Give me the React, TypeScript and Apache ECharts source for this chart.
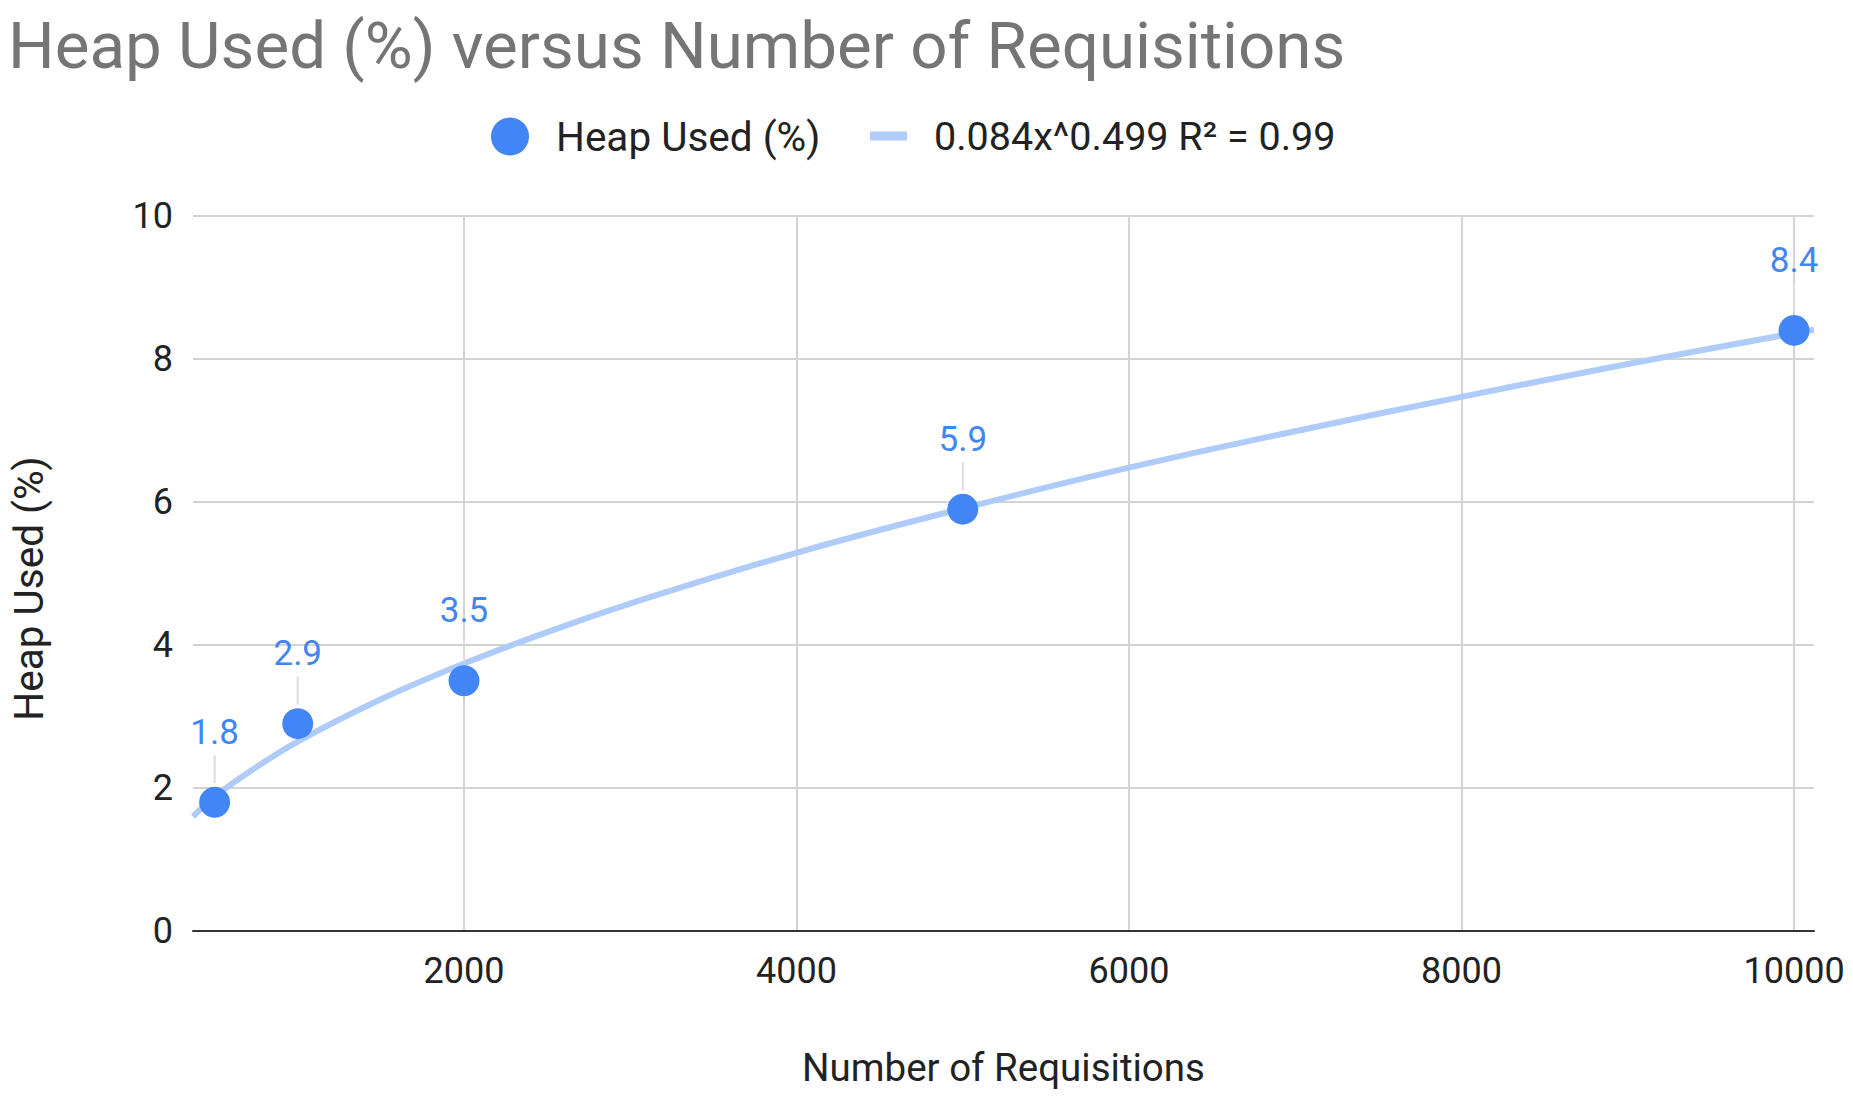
import React, { useEffect, useRef } from "react";
import * as echarts from "echarts";

const titleText = "Heap Used (%) versus Number of Requisitions";
const seriesName = "Heap Used (%)";
const trendName = "0.084x^0.499 R² = 0.99";
const xAxisName = "Number of Requisitions";
const yAxisName = "Heap Used (%)";

const requisitions = [500, 1000, 2000, 5000, 10000];
const heapUsed = [1.8, 2.9, 3.5, 5.9, 8.4];

// trendline
const trendX = [370, 500, 750, 1000, 1500, 2000, 2500, 3000, 4000, 5000, 6000, 7000, 8000, 9000, 10000, 10120];
const trendY = [1.6, 1.88, 2.29, 2.65, 3.24, 3.74, 4.18, 4.58, 5.29, 5.91, 6.48, 6.99, 7.47, 7.93, 8.36, 8.41];

const xTicks = [2000, 4000, 6000, 8000, 10000];

const FONT = "Roboto";

export default function App() {
  const ref = useRef<HTMLDivElement>(null);
  useEffect(() => {
    document.body.style.margin = "0";
    const chart = echarts.init(ref.current!, null, { renderer: "svg" });
    const points = requisitions.map((x, i) => [x, heapUsed[i]]);
    chart.setOption({
      animation: false,
      backgroundColor: "#ffffff",
      title: {
        text: titleText,
        left: 8,
        top: 12,
        padding: 0,
        textStyle: { fontFamily: FONT, fontSize: 65.5, fontWeight: "normal", color: "#757575" },
      },
      legend: [
        {
          data: [{ name: seriesName, icon: "circle" }],
          left: 486,
          top: 111,
          itemWidth: 82,
          itemHeight: 38,
          selectedMode: false,
          textStyle: { fontFamily: FONT, fontSize: 40.5, color: "#222222" },
        },
        {
          data: [{ name: trendName, icon: "rect" }],
          left: 865,
          top: 111,
          itemWidth: 37,
          itemHeight: 9,
          selectedMode: false,
          textStyle: { fontFamily: FONT, fontSize: 39.5, color: "#222222", padding: [0, 0, 0, 22] },
        },
      ],
      grid: { left: 189, right: 39, top: 216, bottom: 166 },
      xAxis: {
        type: "value",
        min: 370,
        max: 10120,
        name: xAxisName,
        nameLocation: "middle",
        nameGap: 117,
        nameTextStyle: { fontFamily: FONT, fontSize: 38.5, color: "#222222" },
        axisLine: { show: true, lineStyle: { color: "#333333", width: 2 } },
        axisTick: { show: false, customValues: xTicks },
        axisLabel: {
          customValues: xTicks,
          fontFamily: FONT,
          fontSize: 36,
          color: "#222222",
          margin: 22,
          formatter: (v: number) => String(v),
        },
        splitLine: { show: true, lineStyle: { color: "#d3d3d3", width: 2 } },
      },
      yAxis: {
        type: "value",
        min: 0,
        max: 10,
        interval: 2,
        name: yAxisName,
        nameLocation: "middle",
        nameGap: 144,
        nameRotate: 90,
        nameTextStyle: { fontFamily: FONT, fontSize: 40.5, color: "#222222", padding: [0, 30, 0, 0] },
        axisLine: { show: false },
        axisTick: { show: false },
        axisLabel: { fontFamily: FONT, fontSize: 36, color: "#222222", margin: 20 },
        splitLine: { show: true, lineStyle: { color: "#d3d3d3", width: 2 } },
      },
      series: [
        {
          name: trendName,
          type: "line",
          data: trendX.map((x, i) => [x, trendY[i]]),
          smooth: 0.4,
          symbol: "none",
          showSymbol: false,
          lineStyle: { color: "#aecbfa", width: 6 },
          itemStyle: { color: "#aecbfa" },
          z: 2,
          silent: true,
        },
        {
          name: "leaders",
          type: "scatter",
          data: points,
          symbol: "rect",
          symbolSize: [2, 28],
          symbolOffset: [0, -33],
          itemStyle: { color: "#dcdcdc", opacity: 1 },
          z: 3,
          silent: true,
        },
        {
          name: seriesName,
          type: "scatter",
          data: points,
          symbolSize: 31,
          itemStyle: { color: "#4285F4", opacity: 1 },
          label: {
            show: true,
            position: "top",
            distance: 37,
            color: "#4285F4",
            fontSize: 35,
            fontFamily: FONT,
            formatter: (p: any) => String(p.value[1]),
          },
          z: 4,
        },
      ],
    });
    return () => chart.dispose();
  }, []);
  return <div ref={ref} style={{ width: 1853, height: 1097 }} />;
}
